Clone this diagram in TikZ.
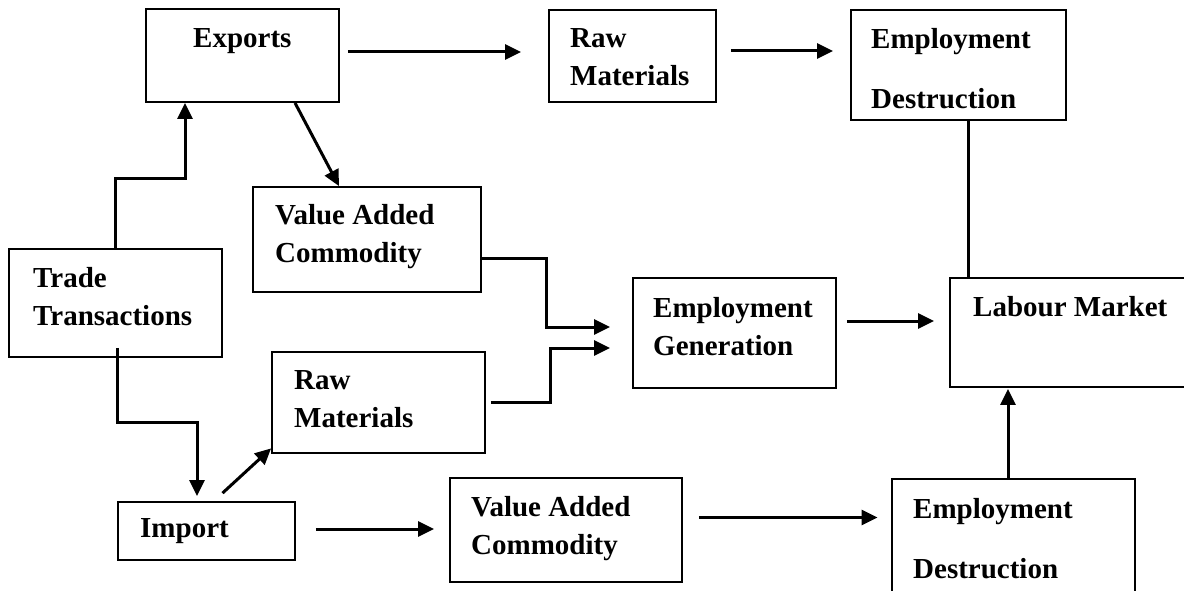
\documentclass[tikz,border=0pt]{standalone}
\usepackage{fontspec}
\setmainfont{Liberation Serif}
\usetikzlibrary{arrows.meta,fit}

\tikzset{
  box/.style={draw, line width=1.8pt, inner sep=0pt},
  lbl/.style={font=\fontsize{29}{38}\selectfont\bfseries, align=left, anchor=north west, inner sep=0pt},
  arr/.style={line width=3pt, -{Triangle[length=16pt,width=15pt]}},
  link/.style={line width=3pt},
}

\begin{document}
\begin{tikzpicture}[x=1pt, y=-1pt]
\clip (0,0) rectangle (1184,591);

% boxes
\node[box, fit={(146,9) (339,102)}] (exports) {};
\node[box, fit={(549,10) (716,102)}] (rmA) {};
\node[box, fit={(851,10) (1066,120)}] (edA) {};
\node[box, fit={(253,187) (481,292)}] (vacA) {};
\node[box, fit={(9,249) (222,357)}] (trade) {};
\node[box, fit={(633,278) (836,388)}] (eg) {};
\node[box, fit={(950,278) (1200,387)}] (lm) {};
\node[box, fit={(272,352) (485,453)}] (rmB) {};
\node[box, fit={(118,502) (295,560)}] (import) {};
\node[box, fit={(450,478) (682,582)}] (vacB) {};
\node[box, fit={(892,479) (1135,600)}] (edB) {};

% labels
\node[lbl] (exportsT) at (193,28.5) {Exports};
\node[lbl] (rmAT) at (570,28.5) {Raw\\Materials};
\node[lbl] (edAT) at (871,28.5) {Employment\\[22pt]Destruction};
\node[lbl] (vacAT) at (275,204.5) {Value Added\\Commodity};
\node[lbl] (tradeT) at (33,267.5) {Trade\\Transactions};
\node[lbl] (egT) at (653,297.5) {Employment\\Generation};
\node[lbl] (lmT) at (973,296) {Labour Market};
\node[lbl] (rmBT) at (294,370.5) {Raw\\Materials};
\node[lbl] (importT) at (140,518.5) {Import};
\node[lbl] (vacBT) at (471,496.5) {Value Added\\Commodity};
\node[lbl] (edBT) at (913,498.5) {Employment\\[22pt]Destruction};

% export side
\draw[arr] (trade.north) -- ++(0,-70) -| ([xshift=-57.5pt]exports.south);
\draw[arr] ([xshift=52.5pt]exports.south) -- ([xshift=-28pt]vacA.north);
\draw[arr, shorten <=8pt, shorten >=27pt] ([yshift=3.5pt]exports.east) -- ([yshift=3.5pt]exports.east -| rmA.west);
\draw[arr, shorten <=14pt, shorten >=17pt] ([yshift=5pt]rmA.east) -- ([yshift=5pt]rmA.east -| edA.west);
\draw[link] ([xshift=9.5pt]edA.south) -- ([xshift=9.5pt]edA.south |- lm.north);

% into employment generation
\draw[arr, shorten >=22pt] ([yshift=-18.5pt]vacA.east) -- ++(65,0) |- ([yshift=6pt]eg.west);
\draw[arr, shorten <=5pt, shorten >=22pt] (rmB.east) -- ++(65,0) |- ([yshift=-15pt]eg.west);
\draw[arr, shorten <=10pt, shorten >=15pt] ([yshift=12pt]eg.east) -- ([yshift=12pt]eg.east -| lm.west);

% import side
\draw[arr, shorten >=5pt] ([xshift=1.5pt,yshift=10pt]trade.south) -- ++(0,75) -| ([xshift=-9.5pt]import.north);
\draw[arr] ([xshift=16pt,yshift=8pt]import.north) -- ([yshift=5.5pt]rmB.south west);
\draw[arr, shorten <=20pt, shorten >=15pt] ([yshift=2pt]import.east) -- ([yshift=2pt]import.east -| vacB.west);
\draw[arr, shorten <=16pt, shorten >=13.5pt] ([yshift=12.5pt]vacB.east) -- ([yshift=12.5pt]vacB.east -| edB.west);
\draw[arr, shorten >=1pt] ([xshift=-5.5pt]edB.north) -- ([xshift=-5.5pt]edB.north |- lm.south);
\end{tikzpicture}
\end{document}
